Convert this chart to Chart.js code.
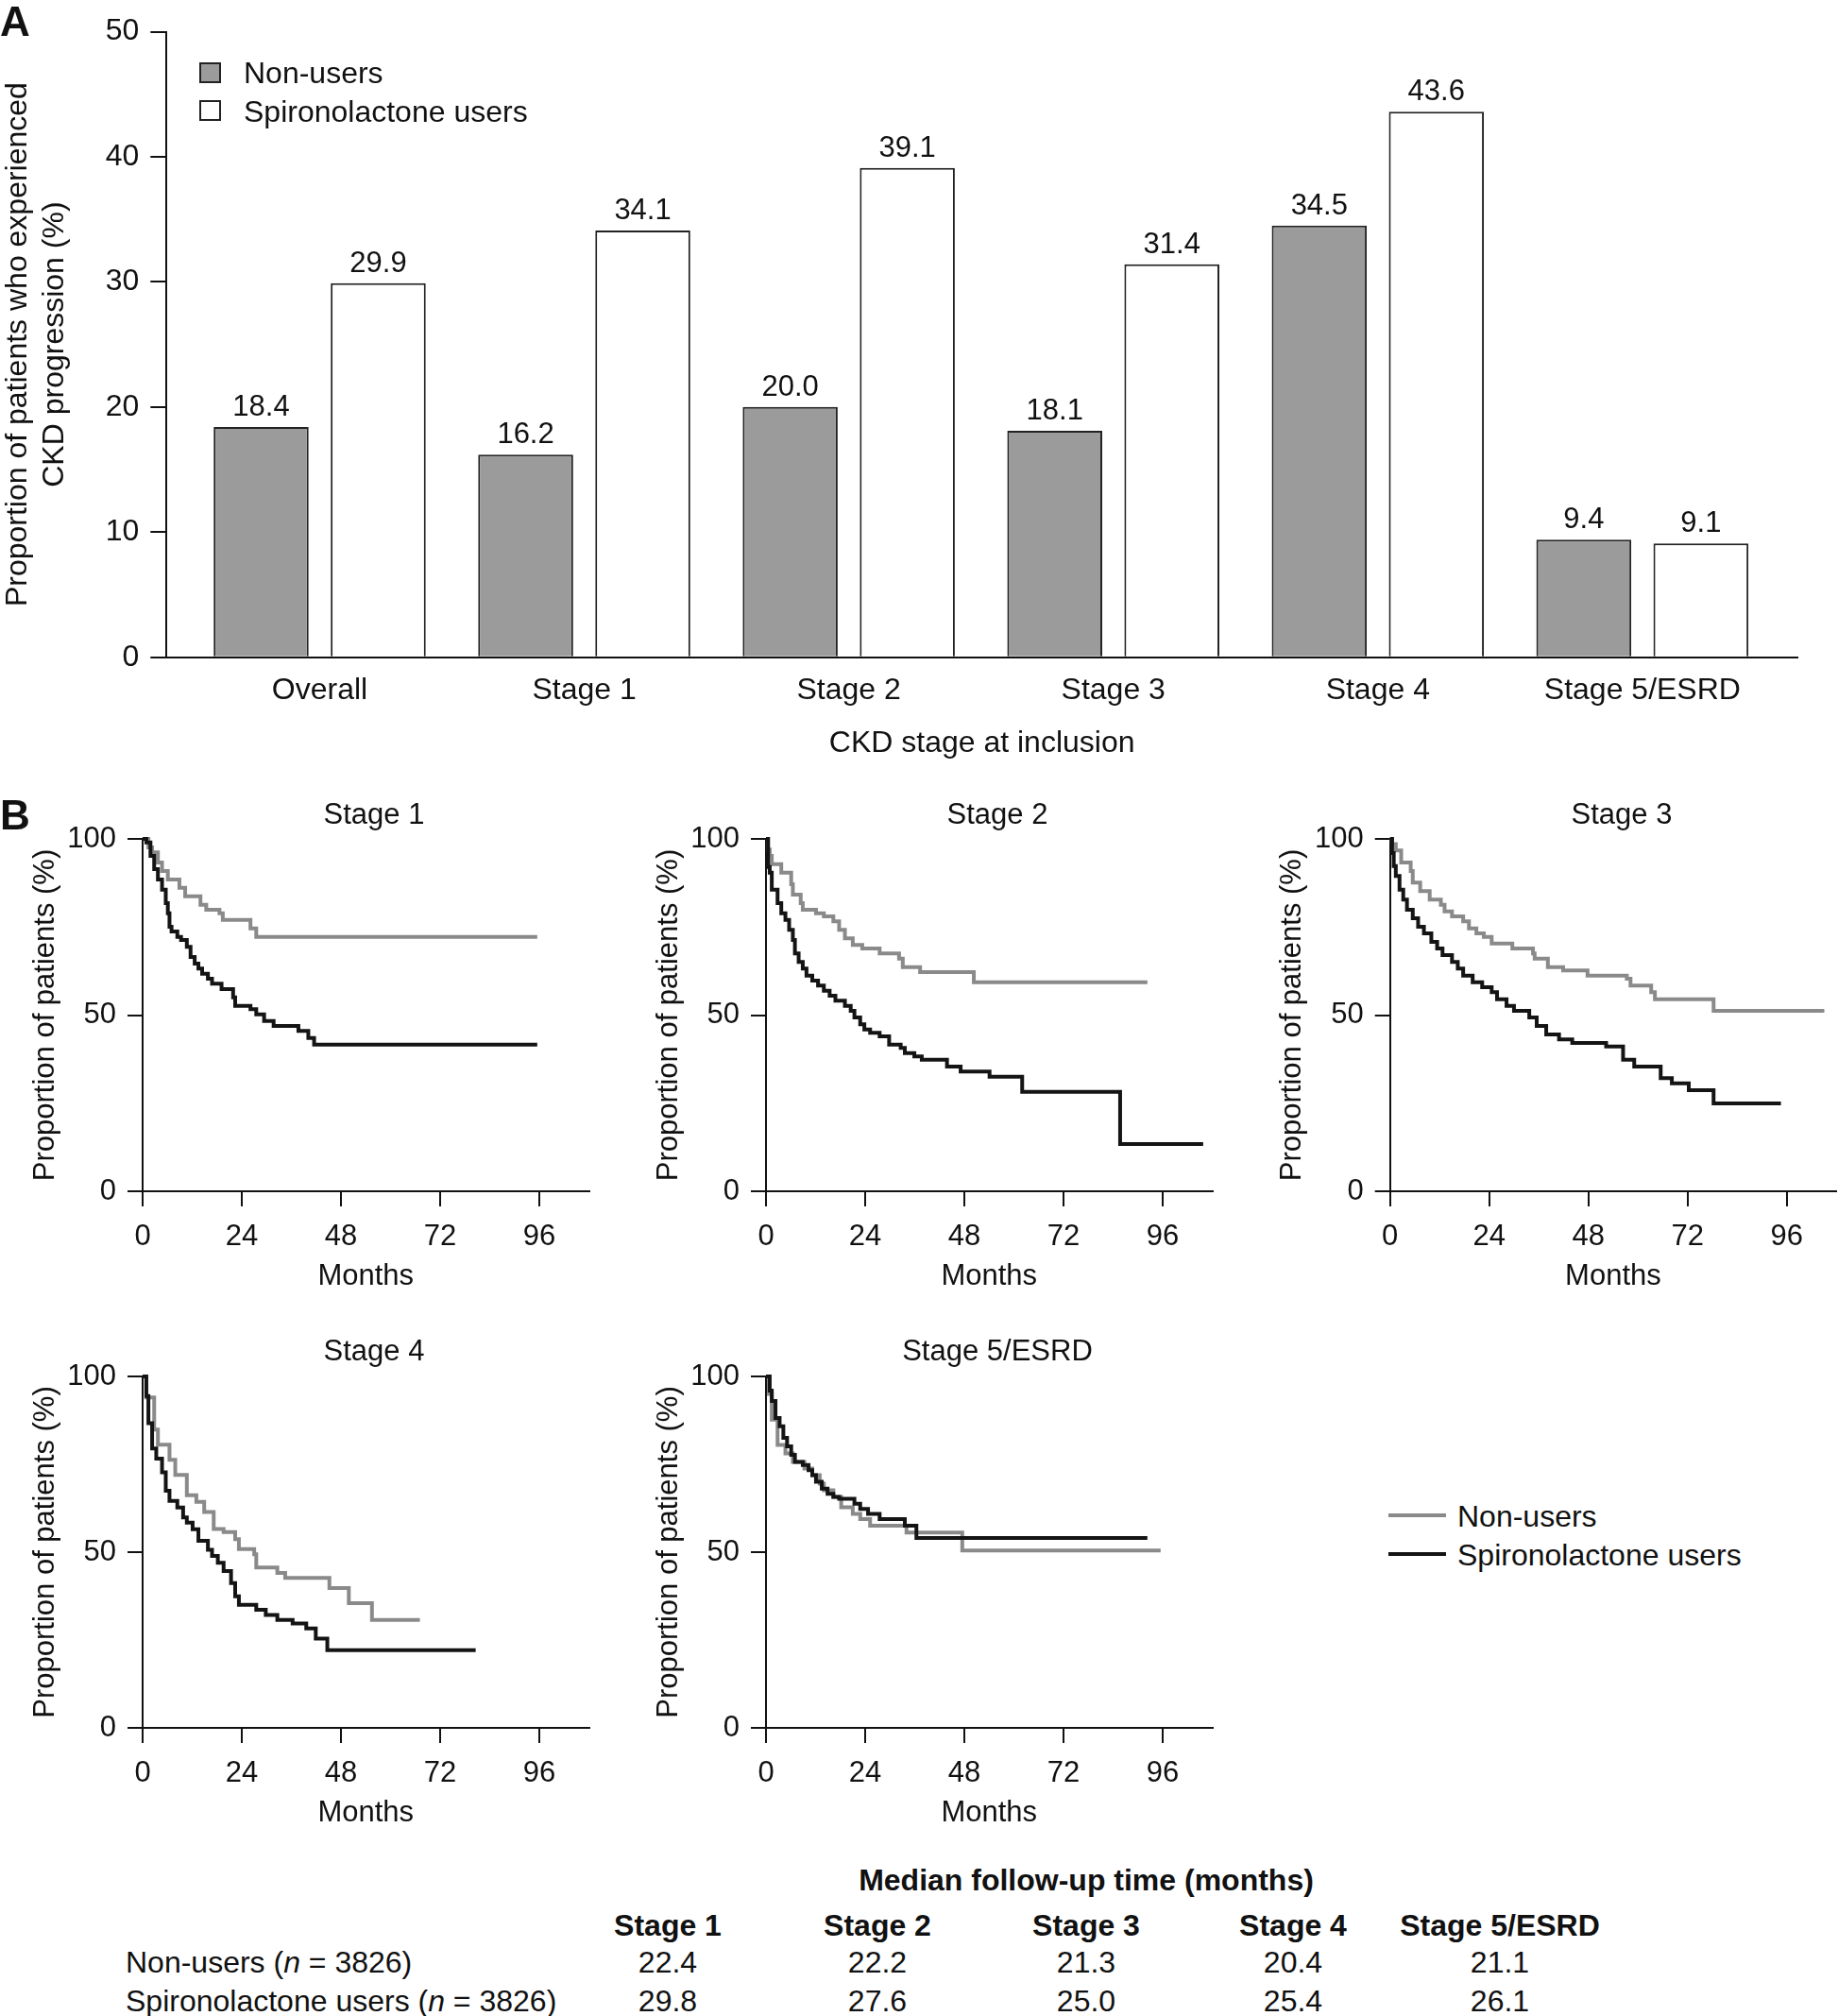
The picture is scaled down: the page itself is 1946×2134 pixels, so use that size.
<!DOCTYPE html>
<html><head><meta charset="utf-8">
<script src="https://cdn.jsdelivr.net/npm/chart.js@4.4.1/dist/chart.umd.min.js"></script>
<style>
html,body{margin:0;padding:0;background:#fff;}
body{width:1946px;height:2134px;position:relative;overflow:hidden;font-family:"Liberation Sans",Arial,sans-serif;color:#111;}
canvas{position:absolute;}
.t{position:absolute;white-space:nowrap;line-height:1;}
.c{text-align:center;width:500px;}
.b{font-weight:bold;}
.sq{position:absolute;width:23px;height:22px;box-sizing:border-box;border:2px solid #222;}
.ln{position:absolute;width:61px;height:4px;}
</style></head><body>

<canvas id="cA" width="1946" height="830" style="left:0;top:0"></canvas>
<canvas id="k1" width="660" height="560" style="left:0;top:820px"></canvas>
<canvas id="k2" width="660" height="560" style="left:660px;top:820px"></canvas>
<canvas id="k3" width="626" height="560" style="left:1320px;top:820px"></canvas>
<canvas id="k4" width="660" height="559" style="left:0;top:1389px"></canvas>
<canvas id="k5" width="660" height="559" style="left:660px;top:1389px"></canvas>

<div class="t b" style="left:0;top:1px;font-size:44px">A</div>
<div class="t b" style="left:0;top:841px;font-size:44px">B</div>

<div class="sq" style="left:211px;top:66px;background:#9b9b9b"></div>
<div class="sq" style="left:211px;top:106px;background:#fff"></div>
<div class="t" style="left:258px;top:61px;font-size:32px">Non-users</div>
<div class="t" style="left:258px;top:101.5px;font-size:32px">Spironolactone users</div>

<div id="kmTitles"></div>

<div class="ln" style="left:1470px;top:1602px;background:#8a8a8a"></div>
<div class="ln" style="left:1470px;top:1643px;background:#141414"></div>
<div class="t" style="left:1543px;top:1589px;font-size:32px">Non-users</div>
<div class="t" style="left:1543px;top:1630px;font-size:32px">Spironolactone users</div>

<div id="table"></div>

<script>
// ---------- Panel A data ----------
const categories = ['Overall', 'Stage 1', 'Stage 2', 'Stage 3', 'Stage 4', 'Stage 5/ESRD'];
const nonUsers   = [18.4, 16.2, 20.0, 18.1, 34.5, 9.4];
const spiroUsers = [29.9, 34.1, 39.1, 31.4, 43.6, 9.1];
const yTicksA = [0, 10, 20, 30, 40, 50];

// ---------- Panel B data (months, % without progression) ----------
const s1NonT = [0, 1.4, 2.3, 3.7, 4.7, 6.1, 8.9, 10.3, 14.0, 15.4, 18.6, 19.4, 26.1, 27.5, 95.5];
const s1NonS = [100, 97.6, 96.2, 93.3, 90.9, 88.5, 86.1, 83.7, 81.3, 79.9, 78.9, 77.0, 74.6, 72.2, 72.2];
const s1SpiT = [0, 0.9, 1.9, 2.8, 3.7, 4.7, 5.6, 6.1, 6.5, 7.0, 8.4, 9.3, 10.7, 11.6, 12.6, 13.5, 14.4, 15.8, 16.8, 19.1, 21.9, 22.4, 26.1, 27.5, 29.4, 31.7, 37.7, 40.1, 41.5, 95.5];
const s1SpiS = [100, 99.0, 95.2, 91.4, 88.5, 85.6, 81.8, 78.9, 75.1, 73.7, 72.2, 71.3, 69.4, 66.5, 64.6, 63.2, 61.7, 60.3, 58.9, 57.4, 55.0, 52.6, 51.7, 50.2, 48.3, 46.9, 45.5, 43.5, 41.6, 41.6];

const s2NonT = [0, 0.5, 0.9, 1.4, 3.7, 6.1, 6.5, 8.4, 8.9, 12.1, 14.0, 16.3, 17.7, 19.1, 21.0, 23.3, 27.5, 32.2, 33.1, 37.3, 50.3, 92.3];
const s2NonS = [100, 97.0, 95.2, 92.8, 90.4, 87.1, 84.2, 81.8, 79.9, 78.9, 78.0, 76.6, 74.2, 71.8, 69.9, 68.9, 67.5, 66.0, 63.6, 62.2, 59.3, 59.3];
const s2SpiT = [0, 0.5, 0.9, 1.4, 2.8, 3.7, 4.7, 5.6, 6.5, 7.0, 7.9, 8.9, 9.8, 11.2, 12.6, 14.0, 15.4, 16.8, 19.1, 20.5, 21.4, 22.8, 23.8, 25.2, 27.5, 29.8, 32.6, 33.6, 35.9, 37.7, 43.8, 47.1, 54.1, 62.0, 85.7, 105.8];
const s2SpiS = [100, 92.0, 90.4, 85.6, 81.8, 78.9, 77.0, 74.2, 71.3, 67.5, 65.1, 63.2, 61.2, 59.8, 58.4, 56.9, 55.5, 54.1, 52.6, 51.2, 49.3, 47.4, 45.9, 45.0, 44.0, 41.6, 40.7, 39.2, 38.3, 37.3, 35.4, 34.0, 32.5, 28.2, 13.4, 13.4];

const s3NonT = [0, 0.5, 1.4, 2.7, 5.0, 5.5, 7.3, 9.6, 12.3, 13.2, 15.0, 17.7, 19.1, 20.9, 22.7, 24.6, 29.6, 34.6, 35.0, 38.2, 41.9, 47.8, 57.3, 58.2, 63.2, 64.1, 78.3, 105.1];
const s3NonS = [100, 98.5, 96.7, 93.3, 90.9, 87.6, 85.2, 82.8, 81.3, 79.4, 78.0, 76.6, 74.6, 73.2, 72.2, 70.3, 68.9, 67.5, 66.0, 63.6, 62.7, 61.2, 60.3, 58.4, 56.5, 54.5, 51.2, 51.2];
const s3SpiT = [0, 0.5, 0.9, 1.4, 2.3, 3.2, 4.1, 5.5, 6.8, 8.2, 10.0, 11.4, 12.7, 15.0, 16.4, 17.7, 20.0, 22.3, 24.6, 25.9, 28.2, 30.0, 33.7, 35.5, 37.8, 40.9, 44.1, 52.3, 56.4, 59.1, 65.5, 68.2, 72.3, 78.3, 94.6];
const s3SpiS = [100, 96.0, 92.3, 89.5, 85.6, 82.8, 79.9, 77.5, 75.1, 73.2, 70.8, 68.9, 67.0, 65.1, 63.2, 61.2, 59.3, 57.9, 56.5, 54.5, 52.6, 51.2, 49.3, 46.9, 44.5, 43.1, 42.1, 41.1, 37.3, 35.4, 32.1, 30.6, 28.7, 24.9, 24.9];

const s4NonT = [0, 0.9, 2.8, 3.7, 6.5, 7.9, 10.7, 13.0, 14.9, 17.2, 19.6, 22.4, 23.3, 27.0, 27.5, 32.6, 34.5, 45.2, 49.9, 55.5, 67.1];
const s4NonS = [100, 94.0, 84.9, 80.6, 76.3, 72.0, 66.2, 64.3, 61.4, 56.6, 55.7, 53.7, 50.9, 49.4, 45.6, 44.1, 42.7, 39.8, 35.5, 30.7, 30.7];
const s4SpiT = [0, 0.9, 1.4, 2.3, 3.3, 4.7, 5.6, 6.5, 8.4, 9.8, 10.7, 12.1, 13.5, 15.8, 16.8, 18.2, 19.6, 21.4, 22.4, 23.3, 27.5, 29.8, 32.6, 36.3, 39.6, 41.9, 44.7, 80.6];
const s4SpiS = [100, 94.4, 86.7, 79.5, 76.6, 72.7, 67.5, 64.6, 62.7, 59.9, 58.4, 56.5, 53.2, 50.7, 48.9, 47.0, 44.6, 41.2, 37.4, 35.0, 33.6, 32.1, 30.7, 29.7, 28.3, 25.4, 22.1, 22.1];

const s5NonT = [0, 0.7, 1.4, 2.8, 4.7, 6.5, 9.3, 11.2, 13.0, 14.0, 16.3, 18.2, 21.0, 22.8, 25.2, 34.0, 47.5, 95.5];
const s5NonS = [100, 95.0, 87.7, 80.5, 78.1, 75.7, 73.8, 71.9, 69.5, 67.6, 65.7, 62.8, 60.9, 59.4, 57.5, 55.6, 50.5, 50.5];
const s5SpiT = [0, 0.9, 1.4, 2.3, 3.3, 4.2, 5.1, 6.1, 7.0, 8.9, 10.3, 11.2, 12.1, 13.5, 14.9, 16.3, 17.7, 21.4, 22.8, 24.7, 27.5, 33.6, 36.4, 92.3];
const s5SpiS = [100, 96.0, 93.0, 88.2, 85.8, 82.5, 80.1, 77.7, 75.7, 74.8, 73.3, 71.9, 70.0, 68.1, 66.6, 65.7, 65.2, 63.8, 62.3, 60.9, 59.4, 57.5, 54.0, 54.0];

const kmTitles = ['Stage 1', 'Stage 2', 'Stage 3', 'Stage 4', 'Stage 5/ESRD'];
const monthTicks = [0, 24, 48, 72, 96];

// ---------- Table data ----------
const tableStages = ['Stage 1', 'Stage 2', 'Stage 3', 'Stage 4', 'Stage 5/ESRD'];
const medianNonUsers = ['22.4', '22.2', '21.3', '20.4', '21.1'];
const medianSpiro    = ['29.8', '27.6', '25.0', '25.4', '26.1'];

// ---------- Common ----------
const FAM = '"Liberation Sans", Arial, sans-serif';
Chart.defaults.font.family = FAM;
Chart.defaults.color = '#111';
const INK = '#111';

// ---------- Panel A ----------
const valueLabels = {
  id: 'valueLabels',
  afterDatasetsDraw(chart) {
    const ctx = chart.ctx;
    ctx.save();
    ctx.font = '31px ' + FAM;
    ctx.fillStyle = INK;
    ctx.textAlign = 'center';
    ctx.textBaseline = 'alphabetic';
    chart.data.datasets.forEach((ds, di) => {
      chart.getDatasetMeta(di).data.forEach((el, i) => {
        ctx.fillText(ds.data[i].y.toFixed(1), el.x, el.y - 12);
      });
    });
    ctx.restore();
  }
};

new Chart(document.getElementById('cA'), {
  type: 'bar',
  data: {
    datasets: [
      { label: 'Non-users', data: nonUsers.map((v, i) => ({ x: i, y: v })),
        backgroundColor: '#9b9b9b', borderColor: '#222', borderWidth: 2 },
      { label: 'Spironolactone users', data: spiroUsers.map((v, i) => ({ x: i, y: v })),
        backgroundColor: '#ffffff', borderColor: '#222', borderWidth: 2 }
    ]
  },
  options: {
    responsive: false, animation: false, events: [],
    layout: { padding: { top: 33.5, right: 43, bottom: 0, left: 0 } },
    plugins: { legend: { display: false }, tooltip: { enabled: false } },
    datasets: { bar: { categoryPercentage: 0.8854, barPercentage: 0.811 } },
    scales: {
      x: {
        type: 'linear', min: -0.579, max: 5.586, offset: false,
        grid: { display: false, drawTicks: false },
        border: { display: true, color: INK, width: 2 },
        ticks: { stepSize: 1, includeBounds: false, autoSkip: false, maxRotation: 0, minRotation: 0,
                 padding: 16, font: { size: 32 }, color: INK,
                 callback: (v) => (categories[v] !== undefined ? categories[v] : '') },
        title: { display: true, text: 'CKD stage at inclusion', font: { size: 32 }, color: INK,
                 padding: { top: 0, bottom: 24 } },
        afterFit: (s) => { s.height = 830 - 695.7; }
      },
      y: {
        min: 0, max: 50,
        afterBuildTicks: (s) => { s.ticks = yTicksA.map(v => ({ value: v })); },
        grid: { drawOnChartArea: false, drawTicks: true, tickLength: 17, color: INK, lineWidth: 2 },
        border: { display: true, color: INK, width: 2 },
        ticks: { padding: 12, font: { size: 32 }, color: INK },
        title: { display: true, text: ['Proportion of patients who experienced', 'CKD progression (%)'],
                 font: { size: 32, lineHeight: 1.22 }, color: INK, padding: { top: 0, bottom: 0 } },
        afterFit: (s) => { s.width = 176.3; }
      }
    }
  },
  plugins: [valueLabels]
});

// ---------- Panel B ----------
function toXY(t, s) { return t.map((x, i) => ({ x: x, y: s[i] })); }

function km(id, nonT, nonS, spiT, spiS, axisLeft, padRight, canvasH) {
  new Chart(document.getElementById(id), {
    type: 'line',
    data: {
      datasets: [
        { label: 'Spironolactone users', data: toXY(spiT, spiS), borderColor: '#141414', borderWidth: 4,
          stepped: true, pointRadius: 0, fill: false, order: 1, clip: false,
          borderJoinStyle: 'miter', borderCapStyle: 'butt' },
        { label: 'Non-users', data: toXY(nonT, nonS), borderColor: '#8a8a8a', borderWidth: 4,
          stepped: true, pointRadius: 0, fill: false, order: 2, clip: false,
          borderJoinStyle: 'miter', borderCapStyle: 'butt' }
      ]
    },
    options: {
      responsive: false, animation: false, events: [],
      layout: { padding: { top: 68, right: padRight, bottom: 0, left: 0 } },
      plugins: { legend: { display: false }, tooltip: { enabled: false } },
      scales: {
        x: {
          type: 'linear', min: 0, max: 108,
          afterBuildTicks: (s) => { s.ticks = monthTicks.map(v => ({ value: v })); },
          grid: { drawOnChartArea: false, drawTicks: true, tickLength: 16, color: INK, lineWidth: 2 },
          border: { display: true, color: INK, width: 2 },
          ticks: { autoSkip: false, maxRotation: 0, minRotation: 0, padding: 13.4, font: { size: 31 }, color: INK },
          title: { display: true, text: 'Months', font: { size: 31 }, color: INK, padding: { top: 0, bottom: 10 } },
          afterFit: (s) => { s.height = canvasH - (canvasH === 560 ? 441 : 440); }
        },
        y: {
          min: 0, max: 100,
          afterBuildTicks: (s) => { s.ticks = [0, 50, 100].map(v => ({ value: v })); },
          grid: { drawOnChartArea: false, drawTicks: true, tickLength: 16, color: INK, lineWidth: 2 },
          border: { display: true, color: INK, width: 2 },
          ticks: { padding: 12, font: { size: 31 }, color: INK },
          title: { display: true, text: 'Proportion of patients (%)', font: { size: 31 }, color: INK,
                   padding: { top: 29.4, bottom: 0 } },
          afterFit: (s) => { s.width = axisLeft; }
        }
      }
    }
  });
}

km('k1', s1NonT, s1NonS, s1SpiT, s1SpiS, 151, 36.5, 560);
km('k2', s2NonT, s2NonS, s2SpiT, s2SpiS, 151, 36.5, 560);
km('k3', s3NonT, s3NonS, s3SpiT, s3SpiS, 151.7, 1.8, 560);
km('k4', s4NonT, s4NonS, s4SpiT, s4SpiS, 151, 36.5, 559);
km('k5', s5NonT, s5NonS, s5SpiT, s5SpiS, 151, 36.5, 559);

// KM panel titles
const titlePos = [[396, 861], [1056, 861], [1717, 861], [396, 1429], [1056, 1429]];
const tWrap = document.getElementById('kmTitles');
kmTitles.forEach((txt, i) => {
  const d = document.createElement('div');
  d.className = 't c';
  d.style.fontSize = '31px';
  d.style.left = (titlePos[i][0] - 250) + 'px';
  d.style.top = (titlePos[i][1] - 15.5) + 'px';
  d.textContent = txt;
  tWrap.appendChild(d);
});

// ---------- Table ----------
const tab = document.getElementById('table');
const colX = [707, 929, 1150, 1369, 1588];
function addText(html, x, cy, center, bold) {
  const d = document.createElement('div');
  d.className = 't' + (center ? ' c' : '') + (bold ? ' b' : '');
  d.style.fontSize = '32px';
  d.style.left = (center ? x - 250 : x) + 'px';
  d.style.top = (cy - 16) + 'px';
  d.innerHTML = html;
  tab.appendChild(d);
}
addText('Median follow-up time (months)', 1150, 1990, true, true);
tableStages.forEach((s, i) => addText(s, colX[i], 2038, true, true));
addText('Non-users (<i>n</i> = 3826)', 133, 2077, false, false);
addText('Spironolactone users (<i>n</i> = 3826)', 133, 2118, false, false);
medianNonUsers.forEach((v, i) => addText(v, colX[i], 2077, true, false));
medianSpiro.forEach((v, i) => addText(v, colX[i], 2118, true, false));
</script>
</body></html>
